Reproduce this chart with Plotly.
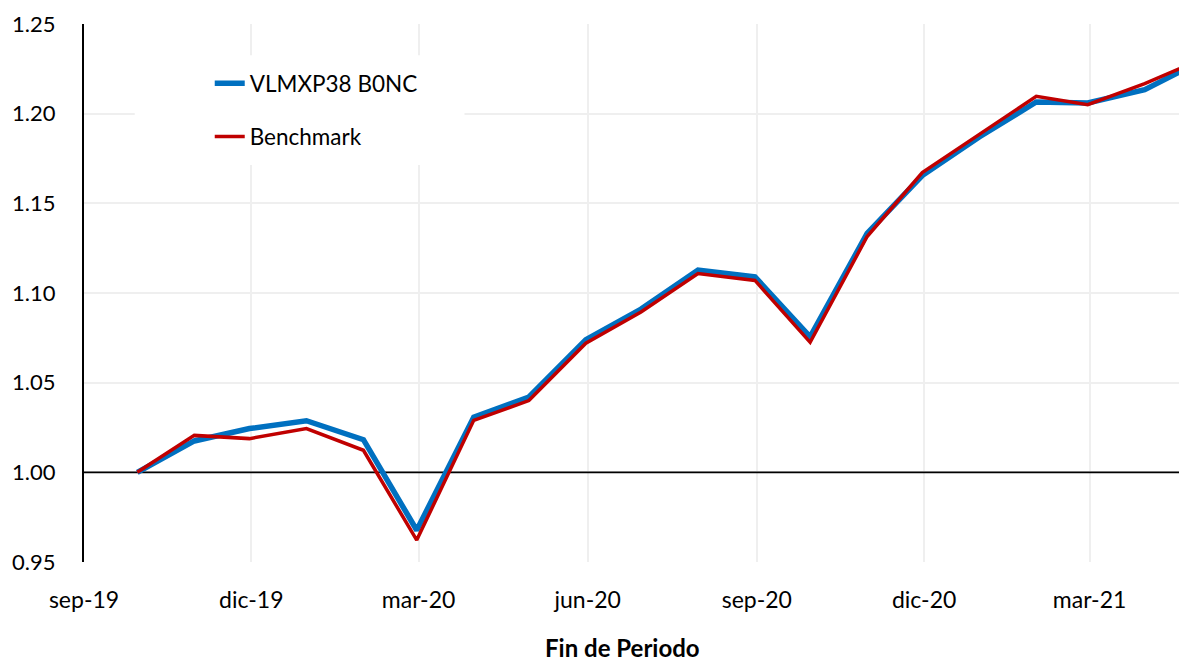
import plotly.graph_objects as go

dates = ["2019-09-30", "2019-10-31", "2019-11-30", "2019-12-31", "2020-01-31", "2020-02-29",
         "2020-03-31", "2020-04-30", "2020-05-31", "2020-06-30", "2020-07-31", "2020-08-31",
         "2020-09-30", "2020-10-31", "2020-11-30", "2020-12-31", "2021-01-31", "2021-02-28",
         "2021-03-31", "2021-04-30"]
fund = [1.000, 1.0175, 1.0244, 1.0288, 1.0182, 0.9677,
        1.0308, 1.0420, 1.0740, 1.0910, 1.1127, 1.1090,
        1.0755, 1.1332, 1.1655, 1.1870, 1.2065, 1.2060,
        1.2134, 1.2290]
bench = [1.000, 1.0206, 1.0188, 1.0244, 1.0123, 0.9622,
         1.0290, 1.0400, 1.0720, 1.0894, 1.1108, 1.1070,
         1.0725, 1.1315, 1.1672, 1.1885, 1.2097, 1.2050,
         1.2168, 1.2300]
fund_name = "VLMXP38 B0NC"
bench_name = "Benchmark"
x_tickvals = ["2019-09-01", "2019-12-01", "2020-03-01", "2020-06-01", "2020-09-01", "2020-12-01", "2021-03-01"]
x_ticktext = ["sep-19", "dic-19", "mar-20", "jun-20", "sep-20", "dic-20", "mar-21"]
y_tickvals = [0.95, 1.00, 1.05, 1.10, 1.15, 1.20, 1.25]
x_range = ["2019-09-01", "2021-04-23"]
y_range = [0.95, 1.25]
base_level = 1.0
x_title = "Fin de Periodo"

FONT = "Lato, 'Open Sans', sans-serif"

fig = go.Figure()
fig.add_trace(go.Scatter(x=dates, y=fund, mode="lines", name=fund_name,
                         line=dict(color="#0070C0", width=5.5), legendgroup="a"))
fig.add_trace(go.Scatter(x=dates, y=bench, mode="lines", name=bench_name,
                         line=dict(color="#C00000", width=3.5), legendgroup="b"))

fig.add_shape(type="line", xref="x", x0=x_range[0], x1=x_range[1], yref="y",
              y0=base_level, y1=base_level,
              line=dict(color="black", width=1.8), layer="between")

# white box behind the legend (hides gridlines there)
fig.add_shape(type="rect", xref="paper", yref="paper", x0=0.046, x1=0.345, y0=0.738, y1=0.942,
              fillcolor="white", line=dict(width=0), layer="above")

fig.add_annotation(text="<b>" + x_title + "</b>", xref="paper", yref="paper",
                   x=0.488, y=-0.158, xanchor="center", yanchor="middle",
                   showarrow=False, font=dict(size=24, family=FONT, color="black"))

# the page body has an 8px margin, so the figure is offset by 8px right and down
fig.update_layout(
    width=1179, height=653,
    margin=dict(l=76, r=0, t=16, b=99),
    paper_bgcolor="white", plot_bgcolor="white",
    font=dict(family=FONT, size=23, color="black"),
    showlegend=True,
    legend=dict(x=0.114, y=0.929, xanchor="left", yanchor="top",
                bgcolor="white", font=dict(size=22.5, family=FONT),
                tracegroupgap=21, borderwidth=0),
    xaxis=dict(type="date", range=x_range,
               tickvals=x_tickvals, ticktext=x_ticktext,
               showgrid=True, gridcolor="#EFEFEF", gridwidth=1.5,
               showline=False, zeroline=False, ticks="", ticklabelstandoff=22,
               automargin=False),
    yaxis=dict(range=y_range, tickvals=y_tickvals, tickformat=".2f",
               tickfont=dict(size=22, family=FONT),
               showgrid=True, gridcolor="#EFEFEF", gridwidth=1.5,
               showline=True, linecolor="black", linewidth=2,
               zeroline=False, ticks="", ticklabelstandoff=22,
               automargin=False),
)

fig.write_html("out.html")
